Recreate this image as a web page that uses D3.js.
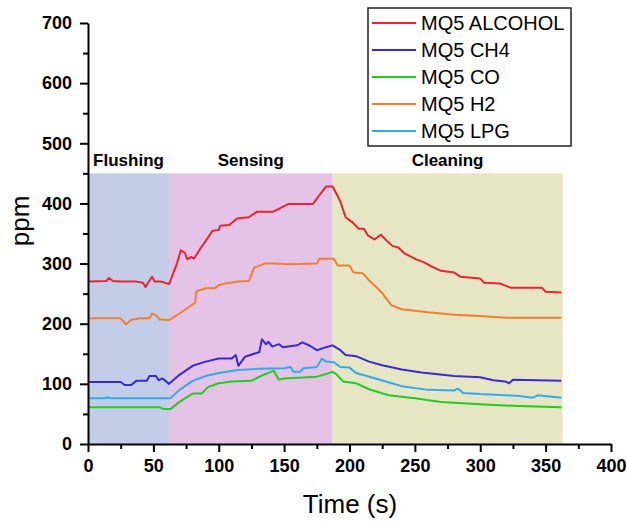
<!DOCTYPE html>
<html>
<head>
<meta charset="utf-8">
<script src="https://cdn.jsdelivr.net/npm/d3@7"></script>
<style>
  body { margin: 0; background: #fff; }
  text { font-family: "Liberation Sans", Arial, sans-serif; }
</style>
</head>
<body>
<div id="chart"></div>
<script>
// data: [time (s), ppm]
var alcohol = [[0,270],[14,271],[16,276],[19,271],[25,270],[37,270],[42,268],[44,261],[46,268],[49,278],[51,270],[56,270],[62,266],[68,300],[71,322],[74,318],[76,307],[79,311],[81,308],[86,325],[92,344],[95,354],[100,356],[101,363],[108,364],[114,375],[123,377],[129,386],[141,386],[147,392],[153,399],[172,399],[176,411],[182,428],[187,428],[190,416],[193,403],[197,377],[202,369],[207,358],[211,358],[214,347],[219,340],[224,348],[228,339],[233,329],[237,327],[242,317],[251,307],[257,302],[262,296],[270,288],[280,285],[285,278],[300,275],[303,268],[315,267],[323,260],[347,260],[350,253],[362,252]]
var ch4 = [[0,103],[25,103],[28,98],[33,98],[37,105],[45,105],[47,113],[52,113],[54,106],[57,109],[62,100],[70,115],[80,130],[90,137],[100,142],[110,142],[113,148],[115,130],[120,145],[127,150],[131,153],[133,174],[136,166],[138,170],[141,162],[146,166],[149,161],[160,164],[164,169],[170,163],[175,156],[182,161],[187,164],[193,156],[197,148],[205,146],[215,137],[225,131],[240,124],[255,119],[280,113],[300,111],[310,106],[319,104],[322,101],[325,107],[362,105]]
var co = [[0,61],[55,61],[58,58],[63,58],[70,70],[80,84],[87,84],[92,95],[100,101],[110,104],[125,105],[132,113],[140,120],[142,122],[146,107],[150,109],[175,112],[180,115],[187,120],[190,116],[195,104],[205,101],[215,91],[230,81],[250,76],[270,70],[300,66],[330,63],[362,61]]
var h2 = [[0,209],[25,209],[29,199],[33,206],[40,209],[47,209],[49,217],[52,214],[55,207],[62,206],[70,217],[78,229],[82,235],[83,254],[90,259],[97,259],[100,264],[105,267],[115,270],[123,271],[127,293],[135,300],[142,300],[155,299],[175,300],[177,308],[188,308],[191,297],[200,297],[203,285],[210,284],[215,272],[220,262],[225,251],[232,231],[240,224],[260,219],[280,215],[300,213],[320,210],[362,210]]
var lpg = [[0,76],[14,76],[15,78],[17,76],[63,76],[70,90],[80,105],[90,113],[100,118],[115,123],[130,125],[150,126],[155,128],[157,120],[162,120],[165,126],[175,128],[179,142],[182,137],[188,136],[193,128],[200,127],[205,118],[220,109],[240,96],[260,90],[280,89],[283,92],[287,85],[300,83],[330,80],[340,77],[344,81],[362,77]]

var seriesNames = ["MQ5 ALCOHOL", "MQ5 CH4", "MQ5 CO", "MQ5 H2", "MQ5 LPG"]
var seriesData = [alcohol, ch4, co, h2, lpg]
var seriesColors = ["#ee2233", "#3a2ad0", "#22cc22", "#f07f30", "#33aaee"]

var phaseNames = ["Flushing", "Sensing", "Cleaning"]
var phaseStart = [0, 62, 187]
var phaseEnd = [62, 187, 363]
var phaseTop = 450
var phaseColors = ["#c3cde8", "#e4c3e6", "#e6e6c4"]

var xTicks = [0, 50, 100, 150, 200, 250, 300, 350, 400]
var yTicks = [0, 100, 200, 300, 400, 500, 600, 700]

var width = 627, height = 524

var svg = d3.select("#chart").append("svg")
    .attr("width", width)
    .attr("height", height)

var x = d3.scaleLinear().domain([0, 400]).range([88, 611])
var y = d3.scaleLinear().domain([0, 700]).range([444, 23])

// phase bands
svg.selectAll(".band")
    .data(phaseNames)
    .enter()
    .append("rect")
    .attr("x", function(d, i) { return x(phaseStart[i]) })
    .attr("width", function(d, i) { return x(phaseEnd[i]) - x(phaseStart[i]) })
    .attr("y", y(phaseTop))
    .attr("height", y(0) - y(phaseTop))
    .attr("fill", function(d, i) { return phaseColors[i] })

svg.selectAll(".bandlabel")
    .data(phaseNames)
    .enter()
    .append("text")
    .attr("x", function(d, i) { return x((phaseStart[i] + phaseEnd[i]) / 2) })
    .attr("y", 166)
    .attr("text-anchor", "middle")
    .style("font-weight", "bold")
    .style("font-size", "17px")
    .text(function(d) { return d })

// lines
var line = d3.line()
    .x(function(d) { return x(d[0]) })
    .y(function(d) { return y(d[1]) })

svg.selectAll(".series")
    .data(seriesData)
    .enter()
    .append("path")
    .attr("d", line)
    .attr("fill", "none")
    .attr("stroke", function(d, i) { return seriesColors[i] })
    .attr("stroke-width", 2)
    .attr("stroke-linejoin", "round")

// axes (minor ticks first, then major with labels)
svg.append("g")
    .attr("transform", "translate(0," + y(0) + ")")
    .call(d3.axisBottom(x).tickValues(d3.range(25, 400, 50)).tickSize(5).tickFormat("").tickSizeOuter(0))
    .call(function(g) { g.select(".domain").remove() })
svg.append("g")
    .attr("transform", "translate(" + x(0) + ",0)")
    .call(d3.axisLeft(y).tickValues(d3.range(50, 700, 100)).tickSize(5).tickFormat("").tickSizeOuter(0))
    .call(function(g) { g.select(".domain").remove() })

var xAxis = svg.append("g")
    .attr("transform", "translate(0," + y(0) + ")")
    .call(d3.axisBottom(x).tickValues(xTicks).tickSize(8).tickPadding(7).tickSizeOuter(0))
var yAxis = svg.append("g")
    .attr("transform", "translate(" + x(0) + ",0)")
    .call(d3.axisLeft(y).tickValues(yTicks).tickSize(8).tickPadding(8).tickSizeOuter(0))

svg.selectAll(".domain, .tick line")
    .attr("stroke", "#000")
    .attr("stroke-width", 2)
svg.selectAll(".tick text")
    .attr("fill", "#000")
    .style("font-size", "18px")
    .style("font-weight", "bold")
    .style("font-family", "'Liberation Sans', Arial, sans-serif")

// axis titles
svg.append("text")
    .attr("x", 350)
    .attr("y", 513)
    .attr("text-anchor", "middle")
    .style("font-size", "26px")
    .text("Time (s)")

svg.append("text")
    .attr("transform", "translate(29,221) rotate(-90)")
    .attr("text-anchor", "middle")
    .style("font-size", "26px")
    .text("ppm")

// legend
var legend = svg.append("g")
svg.append("rect")
    .attr("x", 368).attr("y", 8)
    .attr("width", 203).attr("height", 138)
    .attr("fill", "#fff")
    .attr("stroke", "#222")
    .attr("stroke-width", 1.5)

var items = svg.selectAll(".legends")
    .data(seriesNames)
    .enter()
    .append("g")
    .attr("transform", function(d, i) { return "translate(0," + (23 + i * 27) + ")" })

items.append("line")
    .attr("x1", 372).attr("x2", 416)
    .attr("stroke", function(d, i) { return seriesColors[i] })
    .attr("stroke-width", 2)

items.append("text")
    .attr("x", 421)
    .attr("y", 7)
    .style("font-size", "20px")
    .text(function(d) { return d })
</script>
</body>
</html>
